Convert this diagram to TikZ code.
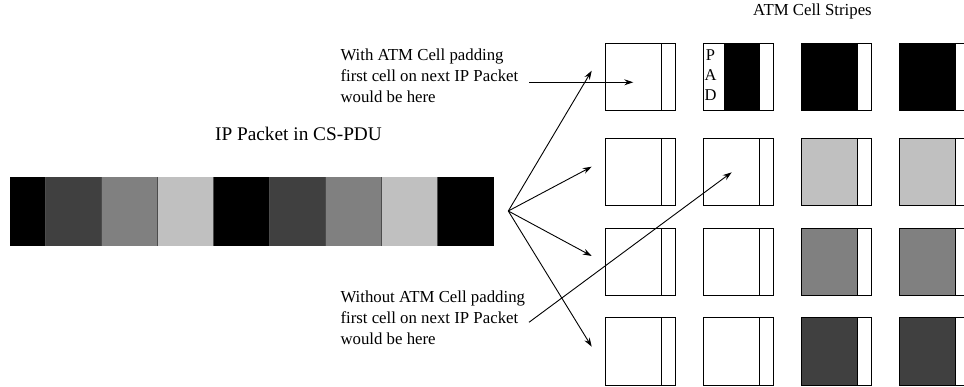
\documentclass[tikz,border=0pt]{standalone}
\usepackage{fontspec}
\setmainfont{Liberation Serif}
\usetikzlibrary{arrows.meta}
\definecolor{gdark}{HTML}{404040}
\definecolor{gmid}{HTML}{808080}
\definecolor{glight}{HTML}{C0C0C0}
\begin{document}
\begin{tikzpicture}[x=1pt,y=-1pt,line width=1pt,
  cellbox/.style={draw=black,line width=1pt,minimum width=70pt,minimum height=67.4pt,inner sep=0pt},
  arr/.style={-{Stealth[length=9pt,width=6pt,inset=3pt]},line width=0.9pt},
  lbl/.style={inner sep=0pt,font=\fontsize{16.8}{21}\selectfont,align=left},
  padl/.style={inner sep=0pt,font=\fontsize{16.5}{18}\selectfont}]
\useasboundingbox (0,0) rectangle (964,387);
\clip (0,0) rectangle (964,387);
% packet
\foreach \a/\b/\col in {10/45.7/black,45.7/101/gdark,101/157.3/gmid,157.3/213.3/glight,213.3/269.3/black,269.3/325.3/gdark,325.3/381.3/gmid,381.3/437.3/glight,437.3/494/black}{
  \fill[\col] (\a,177.3) rectangle (\b,245.7);
}
\foreach \a in {45.7,101,157.3,213.3,269.3,325.3,381.3,437.3}{
  \draw[line width=0.6pt,black!70] (\a,177.3) -- (\a,245.7);
}
\node[font=\fontsize{19.3}{23}\selectfont,anchor=base,inner sep=0pt] (ip) at (298.5,141) {IP Packet in CS-PDU};
\node[font=\fontsize{16.8}{19}\selectfont,anchor=base,inner sep=0pt] (stripes) at (812.5,16) {ATM Cell Stripes};
% cells
\foreach \r/\y/\col in {1/43.3/black,2/138.3/glight,3/228.3/gmid,4/317.7/gdark}{
  \foreach \c/\x in {1/605,2/703,3/801,4/899}{
    \ifnum\c>2 \fill[\col] (\x,\y) rectangle (\x+56.7,\y+67.4); \fi
    \node[cellbox] (c\r\c) at (\x+35,\y+33.7) {};
    \draw (\x+56.7,\y) -- (\x+56.7,\y+67.4);
  }
}
\fill[black] (724,43.3) rectangle (759.7,110.7);
\draw (759.7,43.3) -- (759.7,110.7);
\node[cellbox] at (738.3,77) {};
\node[padl,anchor=base] (p) at (710.5,61) {P};
\node[padl,anchor=base] (a) at (710.5,81) {A};
\node[padl,anchor=base] (d) at (710.5,100.5) {D};
% labels
\node[lbl,anchor=north west] (withpad) at (340,48.7) {With ATM Cell padding\\first cell on next IP Packet\\would be here};
\node[lbl,anchor=north west] (withoutpad) at (340,290.4) {Without ATM Cell padding\\first cell on next IP Packet\\would be here};
% arrows
\coordinate (src) at (508.3,211);
\coordinate (t1) at (591.7,70.7);
\coordinate (t2) at (591.7,166.7);
\coordinate (t3) at (591.7,256);
\coordinate (t4) at (591.7,346.7);
\foreach \t in {t1,t2,t3,t4}{\draw[arr] (src) -- (\t);}
\coordinate (w1) at (529,82.3);
\coordinate (w1e) at (633.3,82.3);
\draw[arr] (w1) -- (w1e);
\coordinate (w2) at (529,322.3);
\coordinate (w2e) at (731.7,172.3);
\draw[arr] (w2) -- (w2e);
\end{tikzpicture}
\end{document}
